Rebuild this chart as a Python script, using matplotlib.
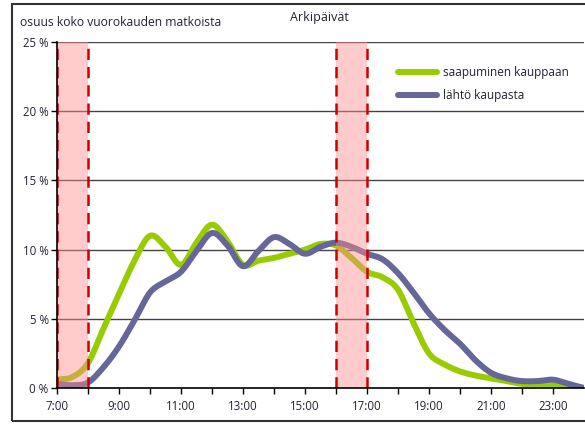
import numpy as np
import matplotlib.pyplot as plt
from matplotlib.patches import Rectangle

# hourly readings (half-hour steps), % of daily trips
hours = [7, 7.5, 8, 8.5, 9, 9.5, 10, 10.5, 11, 11.5, 12, 12.5, 13, 13.5, 14, 14.5,
         15, 15.5, 16, 16.5, 17, 17.5, 18, 18.5, 19, 19.5, 20, 20.5, 21, 21.5,
         22, 22.5, 23, 23.5, 24]
arrival = [0.6, 0.8, 1.8, 4.3, 6.8, 9.2, 11.0, 10.2, 8.9, 10.5, 11.8, 10.6, 8.9, 9.2, 9.4, 9.7,
           10.0, 10.4, 10.3, 9.4, 8.4, 8.0, 7.1, 4.7, 2.5, 1.7, 1.2, 0.9, 0.7, 0.5,
           0.3, 0.25, 0.2, 0.1, 0.0]
departure = [0.3, 0.2, 0.4, 1.5, 3.0, 4.9, 6.9, 7.7, 8.4, 9.9, 11.2, 10.3, 8.8, 9.9, 10.9, 10.4,
             9.7, 10.2, 10.5, 10.2, 9.7, 9.3, 8.3, 6.9, 5.4, 4.2, 3.2, 2.0, 1.1, 0.7,
             0.5, 0.5, 0.6, 0.3, 0.0]
peaks = [(7, 8), (16, 17)]
xticks = [7, 9, 11, 13, 15, 17, 19, 21, 23]
yticks = [0, 5, 10, 15, 20, 25]

series_names = ['saapuminen kauppaan', 'lähtö kaupasta']
colors = ['#99cc00', '#666699']


def smooth(x, y, n=12):
    # catmull-rom, like excel's smoothed lines
    x = np.asarray(x, float)
    y = np.asarray(y, float)
    px = np.concatenate([[2 * x[0] - x[1]], x, [2 * x[-1] - x[-2]]])
    py = np.concatenate([[2 * y[0] - y[1]], y, [2 * y[-1] - y[-2]]])
    xs, ys = [], []
    t = np.linspace(0, 1, n, endpoint=False)
    for i in range(1, len(px) - 2):
        for p, out in ((px, xs), (py, ys)):
            p0, p1, p2, p3 = p[i - 1], p[i], p[i + 1], p[i + 2]
            out.extend(0.5 * (2 * p1 + (-p0 + p2) * t + (2 * p0 - 5 * p1 + 4 * p2 - p3) * t ** 2
                              + (-p0 + 3 * p1 - 3 * p2 + p3) * t ** 3))
    xs.append(x[-1])
    ys.append(y[-1])
    return np.array(xs), np.array(ys)


plt.rcParams['font.family'] = ['Open Sans', 'DejaVu Sans']
txt_color = '#222233'

W, H = 585, 424
fig = plt.figure(figsize=(W / 100, H / 100), dpi=100)
ax = fig.add_axes([57 / W, 1 - 388 / H, (584 - 57) / W, (388 - 42) / H])

# outer frame
fig.patches.append(Rectangle((12 / W, 3 / H), 1, 1 - 7 / H, transform=fig.transFigure,
                             fill=False, edgecolor='#333333', linewidth=1.5))

for yv in yticks[1:]:
    ax.axhline(yv, color='#444444', linewidth=1.0, zorder=1)

for name, yy, c in zip(series_names, [arrival, departure], colors):
    sx, sy = smooth(hours, yy)
    ax.plot(sx, sy, color=c, linewidth=4.3, solid_capstyle='round', zorder=3, label=name)

for a, b in peaks:
    ax.axvspan(a, b, color='#ff8c8c', alpha=0.45, linewidth=0, zorder=4)
    for xv in (a, b):
        ax.axvline(xv, color='#cc0000', linewidth=1.8, linestyle=(0, (4.5, 2.8)), zorder=5)

ax.set_xlim(7, 24)
ax.set_ylim(0, 25)
ax.set_xticks(range(7, 24))
ax.set_xticklabels([f'{h}:00' if h in xticks else '' for h in range(7, 24)])
ax.set_yticks(yticks)
ax.set_yticklabels([f'{v} %' for v in yticks])
ax.tick_params(axis='both', direction='out', length=4, width=1, colors='black',
               labelsize=8.3, labelcolor=txt_color)
ax.tick_params(axis='x', pad=5)
ax.tick_params(axis='y', pad=2)

for s in ['top', 'right']:
    ax.spines[s].set_visible(False)
for s in ['left', 'bottom']:
    ax.spines[s].set_color('black')
    ax.spines[s].set_linewidth(1.2)
    ax.spines[s].set_zorder(6)

fig.text(20 / W, 1 - 22 / H, 'osuus koko vuorokauden matkoista', fontsize=8.7,
         color=txt_color, va='center', ha='left')
fig.text(290 / W, 1 - 18 / H, 'Arkipäivät', fontsize=9, color=txt_color,
         va='center', ha='left')

ax.legend(loc='upper left', bbox_to_anchor=((393 - 57) / (584 - 57), 1 - 19 / 346),
          frameon=False, fontsize=8.5, handlelength=3.3, handletextpad=0.5,
          labelspacing=0.9, borderaxespad=0, labelcolor=txt_color)

fig.savefig('out.png', dpi=100)
